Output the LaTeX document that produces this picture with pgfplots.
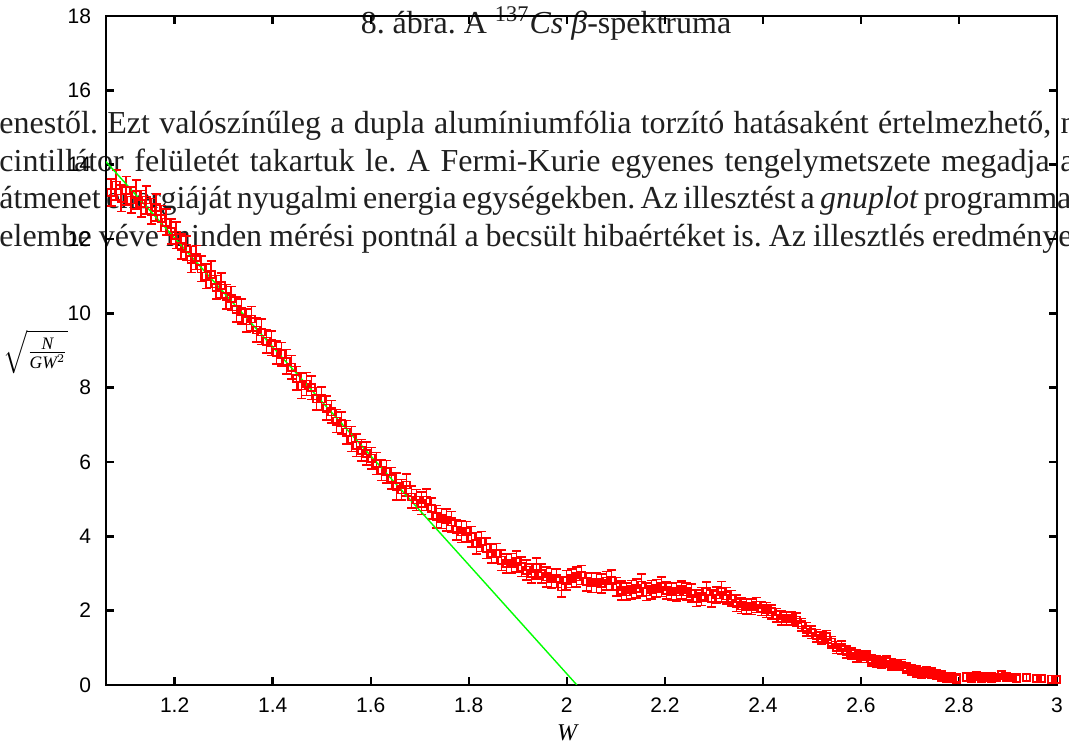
\documentclass[border=0pt]{standalone}
\usepackage{fontspec}
\usepackage{amsmath}
\setmainfont{Liberation Serif}
\newfontfamily\sansfont{Liberation Sans}
\usepackage{pgfplots}
\usepackage{pgfplotstable}
\pgfplotsset{compat=1.18}
\frenchspacing

\pgfplotstableread{
x y e
1.0708 13.25 0.37
1.0810 13.45 0.40
1.0912 13.10 0.36
1.1014 13.30 0.38
1.1116 13.05 0.35
1.1218 13.20 0.39
1.1320 12.95 0.36
1.1422 13.05 0.37
1.1524 12.75 0.34
1.1626 12.85 0.36
1.1728 12.55 0.35
1.1830 12.45 0.35
1.1932 12.20 0.33
1.2034 12.10 0.36
1.2136 11.80 0.34
1.2238 11.75 0.33
1.2340 11.45 0.35
1.2442 11.50 0.32
1.2544 11.20 0.34
1.2646 11.00 0.33
1.2748 11.05 0.35
1.2850 10.70 0.32
1.2952 10.75 0.34
1.3054 10.45 0.33
1.3156 10.40 0.32
1.3258 10.10 0.34
1.3360 10.05 0.33
1.3462 9.80 0.31
1.3564 9.85 0.33
1.3666 9.55 0.32
1.3768 9.50 0.34
1.3870 9.25 0.32
1.3972 9.20 0.33
1.4074 8.95 0.31
1.4176 8.90 0.32
1.4278 8.70 0.33
1.4380 8.55 0.31
1.4482 8.25 0.32
1.4584 8.05 0.34
1.4686 8.10 0.31
1.4788 8.00 0.32
1.4890 7.70 0.30
1.4992 7.70 0.31
1.5094 7.45 0.32
1.5196 7.35 0.30
1.5298 7.10 0.31
1.5400 7.05 0.30
1.5502 6.80 0.32
1.5604 6.62 0.34
1.5706 6.45 0.30
1.5808 6.32 0.29
1.5910 6.23 0.31
1.6012 6.10 0.29
1.6114 5.96 0.30
1.6216 5.78 0.28
1.6318 5.74 0.30
1.6420 5.56 0.29
1.6522 5.34 0.36
1.6624 5.25 0.28
1.6726 5.38 0.30
1.6828 5.06 0.29
1.6930 4.98 0.28
1.7032 4.89 0.30
1.7134 4.98 0.29
1.7236 4.75 0.28
1.7338 4.53 0.30
1.7440 4.48 0.27
1.7542 4.44 0.29
1.7644 4.39 0.28
1.7746 4.17 0.27
1.7848 4.12 0.29
1.7950 4.12 0.28
1.8052 3.99 0.27
1.8154 3.81 0.29
1.8256 3.86 0.27
1.8358 3.68 0.28
1.8460 3.54 0.26
1.8562 3.54 0.27
1.8664 3.36 0.28
1.8766 3.27 0.26
1.8868 3.27 0.27
1.8970 3.32 0.28
1.9072 3.18 0.26
1.9174 3.09 0.27
1.9276 3.00 0.26
1.9378 3.14 0.28
1.9480 3.00 0.26
1.9582 2.91 0.27
1.9684 2.87 0.26
1.9786 2.87 0.25
1.9888 2.64 0.27
1.9990 2.82 0.26
2.0092 2.87 0.25
2.0194 2.91 0.27
2.0296 2.96 0.26
2.0398 2.78 0.25
2.0500 2.75 0.26
2.0602 2.76 0.27
2.0704 2.73 0.26
2.0806 2.80 0.25
2.0908 2.82 0.27
2.1010 2.64 0.25
2.1112 2.54 0.26
2.1214 2.51 0.24
2.1316 2.56 0.25
2.1418 2.60 0.26
2.1520 2.69 0.30
2.1622 2.51 0.24
2.1724 2.56 0.25
2.1826 2.60 0.24
2.1928 2.64 0.26
2.2030 2.55 0.24
2.2132 2.51 0.23
2.2234 2.51 0.25
2.2336 2.56 0.24
2.2438 2.51 0.23
2.2540 2.47 0.24
2.2642 2.33 0.22
2.2744 2.38 0.24
2.2846 2.51 0.26
2.2948 2.33 0.23
2.3050 2.42 0.22
2.3152 2.51 0.27
2.3254 2.40 0.22
2.3356 2.33 0.21
2.3458 2.20 0.22
2.3560 2.13 0.21
2.3662 2.11 0.20
2.3764 2.11 0.21
2.3866 2.15 0.20
2.3968 2.06 0.19
2.4070 2.02 0.20
2.4172 1.97 0.19
2.4274 1.88 0.18
2.4376 1.80 0.19
2.4478 1.79 0.18
2.4580 1.79 0.18
2.4682 1.75 0.18
2.4784 1.62 0.17
2.4886 1.50 0.18
2.4988 1.42 0.17
2.5090 1.32 0.17
2.5192 1.26 0.16
2.5294 1.30 0.17
2.5396 1.15 0.16
2.5498 1.01 0.16
2.5600 1.01 0.17
2.5702 0.89 0.16
2.5804 0.85 0.15
2.5906 0.78 0.16
2.6008 0.76 0.15
2.6110 0.76 0.16
2.6212 0.66 0.15
2.6314 0.63 0.15
2.6416 0.60 0.16
2.6518 0.63 0.15
2.6620 0.56 0.15
2.6722 0.54 0.14
2.6824 0.54 0.15
2.6926 0.47 0.14
2.7028 0.40 0.14
2.7130 0.36 0.15
2.7232 0.33 0.14
2.7334 0.35 0.13
2.7436 0.31 0.14
2.7538 0.28 0.13
2.7640 0.24 0.13
2.7742 0.21 0.13
2.7844 0.20 0.12
2.7946 0.18 0.12
2.8150 0.22 0.12
2.8252 0.20 0.12
2.8354 0.24 0.12
2.8456 0.20 0.12
2.8558 0.22 0.12
2.8660 0.20 0.12
2.8762 0.20 0.11
2.8864 0.27 0.12
2.8966 0.22 0.11
2.9068 0.20 0.11
2.9170 0.18 0.11
2.9374 0.20 0.10
2.9578 0.17 0.10
2.9680 0.18 0.10
2.9884 0.16 0.10
2.9986 0.15 0.10
}\spectrum

\begin{document}
\begin{tikzpicture}
% overlaid body text of the page
\begin{scope}[every node/.style={inner sep=0pt, anchor=base west, font=\fontsize{16}{19}\selectfont, text=black!88}]
\node at (-53.5pt,275.5pt) {\makebox[538.5pt][s]{enestől. Ezt valószínűleg a dupla alumíniumfólia torzító hatásaként értelmezhető, n}};
\node at (-53.5pt,256.75pt) {\makebox[537.5pt][s]{cintillátor felületét takartuk le. A Fermi-Kurie egyenes tengelymetszete megadja a}};
\node at (-53.5pt,238pt) {\makebox[535pt][s]{átmenet energiáját nyugalmi energia egységekben. Az illesztést a \textit{gnuplot} programmal}};
\node at (-53.5pt,219.25pt) {\makebox[536.5pt][s]{elembe véve minden mérési pontnál a becsült hibaértéket is. Az illesztlés eredménye}};
\end{scope}
\node[anchor=base, inner sep=0pt, font=\fontsize{16}{19}\selectfont, text=black!88] at (220pt,325.5pt) {8. ábra. A \textsuperscript{137}\textit{Cs} \textit{β}-spektruma};
\begin{axis}[
  scale only axis, width=475.5pt, height=334.5pt,
  xmin=1.06, xmax=3, ymin=0, ymax=18,
  xtick={1.2,1.4,1.6,1.8,2,2.2,2.4,2.6,2.8,3},
  ytick={0,2,4,6,8,10,12,14,16,18},
  tick align=inside, major tick length=4pt,
  axis line style={line width=1.4pt},
  every tick/.style={black, line width=1.2pt},
  tick label style={font=\sansfont\fontsize{10.5}{12}\selectfont},
  /pgf/number format/assume math mode=true,
  xticklabel style={yshift=-3pt},
  yticklabel style={xshift=-4pt},
]
\addplot[red, line width=0.8pt, only marks, mark=square, mark size=1.8pt,
  error bars/.cd, y dir=both, y explicit, error mark=|,
  error mark options={red, mark size=2.2pt, line width=0.8pt},
  error bar style={red, line width=0.8pt}]
  table[x=x, y=y, y error=e] {\spectrum};
\addplot[green, line width=0.7pt] coordinates {(1.06,14.08) (2.0206,0)};
\end{axis}
\node[anchor=east, inner sep=0pt, font=\fontsize{12.5}{15}\selectfont] at (-19pt,166.5pt) {$\sqrt{\frac{\textit{N}}{\textit{GW}^{2}}}$};
\node[inner sep=0pt, font=\itshape\fontsize{12}{14}\selectfont] at (230.5pt,-24pt) {W};
\pgfresetboundingbox
\path[use as bounding box] (-53pt,-31.5pt) rectangle (481.5pt,342.5pt);
\end{tikzpicture}
\end{document}
